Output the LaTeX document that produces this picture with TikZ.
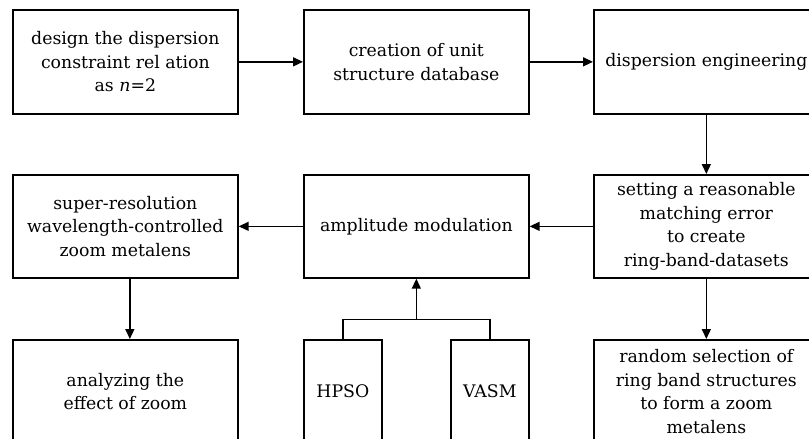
\documentclass[tikz,border=0pt]{standalone}
\usepackage{fontspec}
\setmainfont{DejaVu Serif}
\usetikzlibrary{arrows.meta}
\begin{document}
\begin{tikzpicture}[x=1pt,y=-1pt,
  box/.style={draw, line width=1.7pt, minimum width=225pt, minimum height=104pt,
    align=center, inner sep=0pt, anchor=north west,
    font=\fontsize{17.3}{23.5}\selectfont},
  tall/.style={box, minimum width=78pt, minimum height=103pt},
  arr/.style={line width=1.5pt, -{Triangle[length=10pt,width=9pt]}},
  link/.style={line width=1.5pt}]
\useasboundingbox (0,0) rectangle (809,439);
\clip (0,0) rectangle (809,439);
% first row
\node[box] (A) at (12,9) {design the dispersion\\constraint rel ation\\as \textit{n}=2};
\node[box] (B) at (303,9) {creation of unit\\structure database};
\node[box] (C) at (593,9) {dispersion engineering};
% second row
\node[box, minimum height=103pt] (D) at (12,174) {super-resolution\\wavelength-controlled\\zoom metalens};
\node[box, minimum height=103pt] (E) at (303,174) {amplitude modulation};
\node[box, minimum height=103pt] (F) at (593,174) {setting a reasonable\\matching error\\to create\\ring-band-datasets};
% third row
\node[box, minimum height=103pt] (G) at (12,339) {analyzing the\\effect of zoom};
\node[tall] (H) at (303,339) {HPSO};
\node[tall] (V) at (450,339) {VASM};
\node[box, minimum height=103pt] (I) at (593,339) {random selection of\\ring band structures\\to form a zoom\\metalens};
% connectors
\draw[arr] (A) -- (B);
\draw[arr] (B) -- (C);
\draw[arr] (C) -- (F);
\draw[arr] (F) -- (E);
\draw[arr] (E) -- (D);
\draw[arr] ([xshift=4.5pt]D.south) -- ([xshift=4.5pt]G.north);
\draw[arr] (F) -- (I);
% HPSO and VASM join below the amplitude modulation box
\coordinate (j) at ([yshift=-41pt]E.south);
\draw[link] (H.north) |- (j) -| (V.north);
\draw[arr] (j) -- (E.south);
\end{tikzpicture}
\end{document}
